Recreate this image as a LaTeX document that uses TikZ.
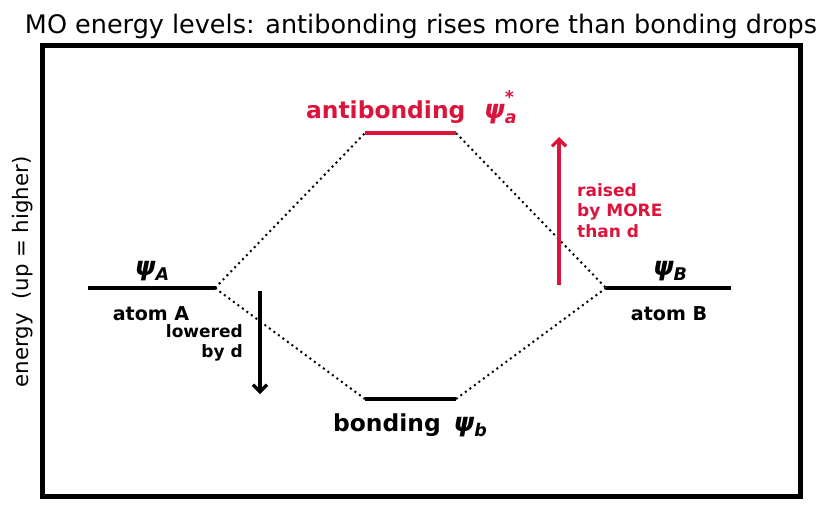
\documentclass[tikz,border=0pt]{standalone}
\usepackage{fontspec}
\setmainfont{DejaVu Sans}
\usepackage{tikz}
\usetikzlibrary{arrows.meta}
\definecolor{crim}{RGB}{220,20,60}
\newcommand{\fsz}[2]{\fontsize{#1}{#2}\selectfont}
\newcommand{\psiof}[1]{{\itshape ψ}\raisebox{-0.22em}{\fsz{17.5}{17.5}\itshape #1}}
\tikzstyle{molevel}=[draw,line width=4.5pt]
\tikzstyle{corrline}=[draw,line width=2pt,dash pattern=on 2pt off 3.6pt]
\tikzstyle{shiftarrow}=[draw,line width=3.2pt,-{Straight Barb[length=7pt,width=14pt]}]
\tikzset{
  lbl/.style = {inner sep=0pt, anchor=base, font=\bfseries\fsz{23.4}{28}},
  atomlbl/.style = {inner sep=0pt, anchor=base, font=\bfseries\fsz{19.1}{23}},
  psilbl/.style = {inner sep=0pt, anchor=base, font=\bfseries\fsz{26}{30}},
  notelbl/.style = {inner sep=0pt, font=\bfseries\fsz{17}{20.6}},
}

\begin{document}
\begin{tikzpicture}[x=1pt,y=-1pt]
  \useasboundingbox (0,0) rectangle (831,512);

  \node[inner sep=0pt, anchor=base, font=\fsz{25.5}{30}] (title) at (421,33)
    {MO energy levels: antibonding rises more than bonding drops};
  \node[inner sep=0pt, rotate=90, font=\fsz{21.3}{25}] (ylab) at (23,272)
    {energy\ \ (up = higher)};
  \draw[line width=4.5pt] (42.5,45.5) rectangle (800.5,496.5);

  % level ends
  \coordinate (Al) at (88,288);  \coordinate (Ar) at (215,288);
  \coordinate (Bl) at (606,288); \coordinate (Br) at (731,288);
  \coordinate (al) at (365,133); \coordinate (ar) at (456,133);
  \coordinate (bl) at (365,399); \coordinate (br) at (456,399);

  \path[corrline] (Ar) -- (al);
  \path[corrline] (Ar) -- (bl);
  \path[corrline] (ar) -- (Bl);
  \path[corrline] (br) -- (Bl);

  \path[molevel] (Al) -- (Ar);
  \path[molevel] (Bl) -- (Br);
  \path[molevel, crim] (al) -- (ar);
  \path[molevel] (bl) -- (br);

  \node[psilbl] (psiA) at (152,275) {\psiof{A}};
  \node[atomlbl] (atomA) at (151,320) {atom A};
  \node[psilbl] (psiB) at (670,275) {\psiof{B}};
  \node[atomlbl] (atomB) at (669,320) {atom B};

  \node[lbl, crim] (anti) at (410,118)
    {antibonding\hspace{0.8em}{\fsz{26}{30}\itshape ψ}\rlap{\raisebox{-0.22em}{\fsz{17.5}{17.5}\itshape a}}\raisebox{0.6em}{\fsz{17.5}{17.5}*}};
  \node[lbl] (bond) at (410,431)
    {bonding\hspace{0.55em}{\fsz{26}{30}\itshape ψ}\raisebox{-0.22em}{\fsz{17.5}{17.5}\itshape b}};

  % shifts
  \coordinate (dtop) at (260,291); \coordinate (dbot) at (260,394);
  \coordinate (rbot) at (559,285); \coordinate (rtop) at (559,137);
  \path[shiftarrow] (dtop) -- (dbot);
  \path[shiftarrow, crim] (rbot) -- (rtop);

  \node[notelbl, align=right, anchor=north east] (lowered) at (243,324)
    {lowered\\by d};
  \node[notelbl, align=left, anchor=north west, crim] (raised) at (577,183)
    {raised\\by MORE\\than d};
\end{tikzpicture}
\end{document}
